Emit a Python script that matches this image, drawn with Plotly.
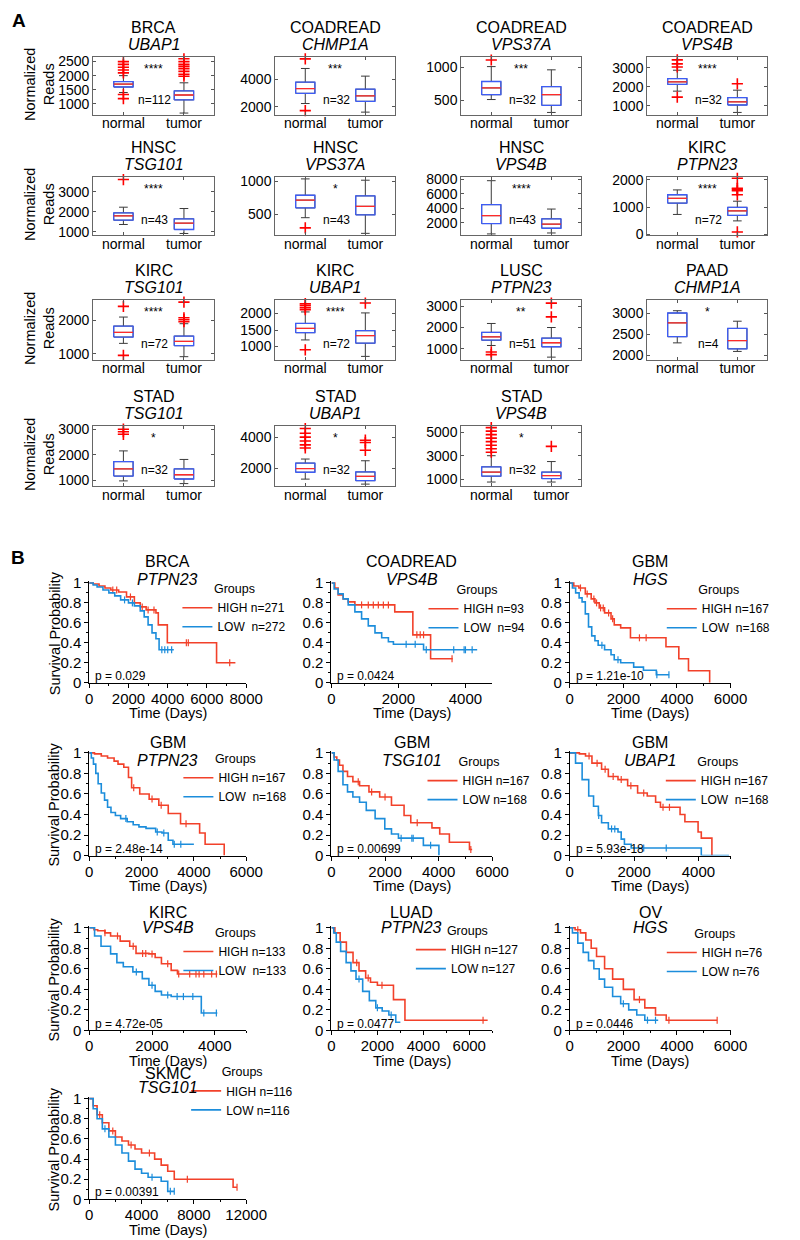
import plotly.graph_objects as go

W, H = 800, 1240
FONT = "Liberation Sans, Arial, sans-serif"
RED = "#f2412a"
BLUE = "#1c8ddb"
BOXBLUE = "#3d5cf5"
MEDRED = "#ff2a2a"

# ---------------- Panel A data ----------------
box_cancer = ["BRCA", "COADREAD", "COADREAD", "COADREAD", "HNSC", "HNSC", "HNSC", "KIRC",
              "KIRC", "KIRC", "LUSC", "PAAD", "STAD", "STAD", "STAD"]
box_gene = ["UBAP1", "CHMP1A", "VPS37A", "VPS4B", "TSG101", "VPS37A", "VPS4B", "PTPN23",
            "TSG101", "UBAP1", "PTPN23", "CHMP1A", "TSG101", "UBAP1", "VPS4B"]
box_n = [112, 32, 32, 32, 43, 43, 43, 72, 72, 72, 51, 4, 32, 32, 32]
box_stars = ["****", "***", "***", "****", "****", "*", "****", "****", "****", "****", "**", "*", "*", "*", "*"]
group_labels = ["normal", "tumor"]

normal_q1 = [1596, 2966, 583, 2119, 1583, 594, 1913, 1143, 1500, 1420, 1400, 2437, 1165, 1740, 1250]
normal_med = [1700, 3310, 686, 2254, 1800, 713, 3000, 1321, 1640, 1550, 1560, 2766, 1445, 1980, 1600]
normal_q3 = [1790, 3770, 784, 2424, 1950, 787, 4520, 1452, 1830, 1700, 1770, 3000, 1730, 2330, 2050]
normal_lo = [1400, 2230, 510, 1763, 1367, 446, 478, 726, 1310, 1200, 1150, 2290, 975, 1300, 750]
normal_hi = [2000, 4760, 1010, 2864, 2233, 1035, 7830, 1631, 2100, 2050, 2190, 3055, 2150, 2590, 3000]
normal_out = [[2100, 2200, 2300, 2400, 2500, 1330, 1180], [5450, 1720], [1110], [3410, 3200, 3034, 1450],
              [3617], [292], [], [], [2420, 950], [2300, 2250, 2180, 2120, 900], [845, 720], [],
              [3000, 2900, 2800], [4550, 4250, 4000, 3750, 3500, 3300],
              [5400, 5100, 4800, 4500, 4200, 3900, 3600, 3300]]

tumor_q1 = [1137, 2391, 422, 1034, 1117, 490, 1261, 690, 1240, 1100, 1090, 2148, 1050, 1200, 1050]
tumor_med = [1310, 2782, 583, 1203, 1433, 619, 1826, 857, 1370, 1330, 1280, 2344, 1215, 1480, 1300]
tumor_q3 = [1458, 3264, 706, 1424, 1650, 777, 2565, 988, 1530, 1480, 1500, 2633, 1445, 1760, 1600]
tumor_lo = [668, 1609, 314, 644, 917, 208, 609, 488, 910, 700, 600, 2086, 870, 980, 750]
tumor_hi = [1745, 4207, 961, 1814, 2167, 1015, 3913, 1214, 1900, 2020, 2000, 2805, 1815, 2480, 2500]
tumor_out = [[1980, 2050, 2150, 2250, 2330, 2400, 2500, 2600], [], [], [2150], [], [], [],
             [2060, 1690, 1650, 1600, 1450, 80], [2550, 2080, 2020, 1960], [2320], [3150, 2500], [],
             [], [3800, 3650, 3150], [3800]]

box_yrange = [[610, 2650], [1425, 5560], [280, 1150], [525, 3540], [830, 3750], [180, 1065],
              [300, 8350], [-40, 2110], [820, 2600], [600, 2400], [480, 3280], [1890, 3300],
              [770, 3130], [850, 4720], [400, 5550]]
box_yticks = [[1000, 1500, 2000, 2500], [2000, 4000], [500, 1000], [1000, 2000, 3000],
              [1000, 2000, 3000], [500, 1000], [2000, 4000, 6000, 8000], [0, 1000, 2000],
              [1000, 2000], [1000, 1500, 2000], [1000, 2000, 3000], [2000, 2500, 3000],
              [1000, 2000, 3000], [2000, 4000], [1000, 3000, 5000]]

# ---------------- Panel B data ----------------
surv_cancer = ["BRCA", "COADREAD", "GBM", "GBM", "GBM", "GBM", "KIRC", "LUAD", "OV", "SKMC"]
surv_gene = ["PTPN23", "VPS4B", "HGS", "PTPN23", "TSG101", "UBAP1", "VPS4B", "PTPN23", "HGS", "TSG101"]
surv_high_label = ["HIGH n=271", "HIGH n=93", "HIGH n=167", "HIGH n=167", "HIGH n=167", "HIGH n=167",
                   "HIGH n=133", "HIGH n=127", "HIGH n=76", "HIGH n=116"]
surv_low_label = ["LOW\u00a0\u00a0n=272", "LOW\u00a0\u00a0n=94", "LOW\u00a0\u00a0n=168", "LOW\u00a0\u00a0n=168",
                  "LOW n=168", "LOW\u00a0\u00a0n=168", "LOW\u00a0\u00a0n=133", "LOW n=127", "LOW n=76", "LOW n=116"]
surv_p = ["0.029", "0.0424", "1.21e-10", "2.48e-14", "0.00699", "5.93e-18", "4.72e-05", "0.0477", "0.0446", "0.00391"]
surv_xmax = [8000, 4800, 6000, 6000, 6000, 5000, 5000, 7000, 6000, 12000]
surv_xdtick = [2000, 2000, 2000, 2000, 2000, 2000, 2000, 2000, 2000, 4000]

brca_high_t = [0, 200, 500, 800, 1100, 1500, 1900, 2300, 2600, 2900, 3400, 3520, 3980, 6490, 7450]
brca_high_s = [1, 0.99, 0.97, 0.95, 0.93, 0.91, 0.86, 0.80, 0.76, 0.73, 0.70, 0.58, 0.40, 0.20, 0.20]
brca_high_c = [1200, 1400, 2100, 2700, 3000, 3300, 4950, 5050, 7160]
brca_low_t = [0, 200, 400, 700, 1000, 1300, 1600, 2000, 2300, 2600, 2800, 3000, 3200, 3400, 3560, 4310]
brca_low_s = [1, 0.98, 0.96, 0.93, 0.90, 0.87, 0.83, 0.80, 0.77, 0.72, 0.66, 0.58, 0.50, 0.44, 0.33, 0.33]
brca_low_c = [1800, 2200, 3700, 3850, 4000, 4200]

coad_high_t = [0, 100, 200, 350, 500, 700, 1890, 2430, 2960, 3620]
coad_high_s = [1, 0.95, 0.88, 0.84, 0.81, 0.78, 0.71, 0.48, 0.24, 0.24]
coad_high_c = [900, 1100, 1250, 1400, 1550, 1700, 2550, 2650, 2750, 3600]
coad_low_t = [0, 80, 200, 350, 500, 700, 900, 1100, 1300, 1500, 1700, 1850, 2750, 4350]
coad_low_s = [1, 0.94, 0.89, 0.84, 0.78, 0.71, 0.64, 0.57, 0.50, 0.45, 0.41, 0.385, 0.33, 0.33]
coad_low_c = [2230, 2500, 2830, 3650, 3960, 4000, 4200]

gbmh_high_t = [0, 150, 340, 580, 800, 940, 1100, 1300, 1540, 1660, 1900, 2265, 3590, 4070, 4430, 5220]
gbmh_high_s = [1, 0.97, 0.95, 0.89, 0.84, 0.80, 0.75, 0.70, 0.64, 0.58, 0.55, 0.45, 0.36, 0.24, 0.12, 0]
gbmh_high_c = [400, 650, 900, 1000, 1150, 1250, 1450, 1600, 2600, 2850]
gbmh_low_t = [0, 100, 220, 350, 460, 580, 700, 820, 940, 1060, 1300, 1540, 1660, 1900, 2385, 2750, 3230, 3710]
gbmh_low_s = [1, 0.95, 0.90, 0.85, 0.81, 0.69, 0.56, 0.47, 0.42, 0.375, 0.33, 0.28, 0.23, 0.20, 0.156, 0.125, 0.08, 0.08]
gbmh_low_c = [1200, 1800, 3250, 3700]

gbmp_high_t = [0, 200, 460, 700, 950, 1100, 1320, 1500, 1620, 1930, 2290, 2660, 3020, 3490, 4220, 4430, 5160]
gbmp_high_s = [1, 0.99, 0.97, 0.95, 0.92, 0.89, 0.86, 0.76, 0.66, 0.60, 0.55, 0.49, 0.41, 0.31, 0.22, 0.11, 0]
gbmp_high_c = [1700, 2400, 2750, 3700]
gbmp_low_t = [0, 80, 160, 250, 340, 460, 585, 700, 830, 1000, 1200, 1450, 1680, 1900, 2170, 2540, 2780, 3020, 3200, 4000]
gbmp_low_s = [1, 0.95, 0.89, 0.80, 0.70, 0.61, 0.54, 0.47, 0.42, 0.39, 0.36, 0.33, 0.30, 0.28, 0.265, 0.23, 0.22, 0.15, 0.11, 0.11]
gbmp_low_c = [1400, 2600, 2850, 3250, 3500]

gbmt_high_t = [0, 100, 200, 300, 430, 600, 800, 1050, 1400, 1800, 2240, 2710, 2960, 3750, 4040, 4400, 5150, 5250]
gbmt_high_s = [1, 0.96, 0.93, 0.88, 0.82, 0.77, 0.72, 0.68, 0.62, 0.57, 0.49, 0.39, 0.32, 0.27, 0.21, 0.13, 0.06, 0.06]
gbmt_high_c = [1000, 1500, 2000, 3200, 5200]
gbmt_low_t = [0, 100, 250, 430, 600, 800, 1050, 1300, 1630, 1990, 2240, 2500, 3430, 4010]
gbmt_low_s = [1, 0.93, 0.82, 0.69, 0.62, 0.57, 0.52, 0.44, 0.36, 0.26, 0.21, 0.17, 0.10, 0]
gbmt_low_c = [2600, 3000, 3050, 3700]

gbmu_high_t = [0, 300, 490, 690, 990, 1200, 1500, 1800, 2110, 2410, 2670, 2820, 3430, 3580, 3990, 4090, 4420]
gbmu_high_s = [1, 0.99, 0.97, 0.90, 0.84, 0.77, 0.74, 0.68, 0.61, 0.58, 0.52, 0.47, 0.40, 0.33, 0.23, 0.17, 0]
gbmu_high_c = [600, 850, 1100, 1350, 1600, 1900, 2300, 2900, 3100]
gbmu_low_t = [0, 180, 385, 590, 740, 890, 990, 1200, 1500, 1600, 1700, 1910, 4090, 4950]
gbmu_low_s = [1, 0.90, 0.74, 0.58, 0.48, 0.39, 0.32, 0.26, 0.23, 0.16, 0.11, 0.074, 0, 0]
gbmu_low_c = [900, 1300, 1400, 2300, 3000]

kirc_high_t = [0, 150, 270, 500, 680, 985, 1290, 1490, 1900, 2100, 2300, 2610, 2810, 4080]
kirc_high_s = [1, 0.98, 0.97, 0.95, 0.92, 0.87, 0.82, 0.75, 0.745, 0.71, 0.65, 0.585, 0.55, 0.55]
kirc_high_c = [500, 900, 1400, 1700, 1800, 2000, 2500, 2850, 3200, 3400, 3500, 3650, 3900, 4050]
kirc_low_t = [0, 170, 375, 680, 880, 1085, 1390, 1690, 1900, 2100, 2300, 2610, 3570, 4080]
kirc_low_s = [1, 0.92, 0.82, 0.745, 0.66, 0.62, 0.57, 0.505, 0.44, 0.38, 0.345, 0.33, 0.17, 0.17]
kirc_low_c = [1500, 2000, 2500, 2800, 3000, 3300, 3650, 4050]

luad_high_t = [0, 150, 380, 650, 940, 1200, 1490, 1700, 2000, 2700, 3200, 6800]
luad_high_s = [1, 0.95, 0.86, 0.76, 0.66, 0.58, 0.51, 0.47, 0.44, 0.30, 0.10, 0.10]
luad_high_c = [1100, 1600, 2200, 6600]
luad_low_t = [0, 100, 210, 400, 640, 850, 1070, 1360, 1650, 1930, 2210, 2500, 2800, 3000]
luad_low_s = [1, 0.95, 0.86, 0.77, 0.66, 0.58, 0.50, 0.38, 0.29, 0.22, 0.19, 0.15, 0.08, 0.08]
luad_low_c = [1200, 2000, 2600]

ov_high_t = [0, 200, 400, 600, 800, 1000, 1300, 1600, 2000, 2400, 2800, 3200, 3600, 5500]
ov_high_s = [1, 0.98, 0.95, 0.88, 0.80, 0.72, 0.60, 0.50, 0.40, 0.30, 0.22, 0.15, 0.10, 0.10]
ov_high_c = [300, 2600, 3700, 5500]
ov_low_t = [0, 100, 300, 500, 700, 900, 1100, 1300, 1600, 1900, 2200, 2500, 2800, 3300]
ov_low_s = [1, 0.95, 0.85, 0.76, 0.68, 0.60, 0.50, 0.42, 0.33, 0.26, 0.20, 0.15, 0.10, 0.10]
ov_low_c = [2000, 2900, 3200]

skmc_high_t = [0, 300, 600, 1000, 1500, 2000, 2500, 3000, 3500, 4000, 5000, 5500, 6000, 6500, 11000, 11300]
skmc_high_s = [1, 0.93, 0.84, 0.76, 0.68, 0.62, 0.58, 0.54, 0.50, 0.46, 0.40, 0.34, 0.28, 0.20, 0.12, 0.12]
skmc_high_c = [800, 1800, 3200, 4600, 7500, 11300]
skmc_low_t = [0, 300, 600, 1000, 1500, 2000, 2500, 3000, 3500, 4000, 4500, 5500, 6000, 6500]
skmc_low_s = [1, 0.90, 0.80, 0.70, 0.62, 0.54, 0.46, 0.38, 0.30, 0.26, 0.22, 0.18, 0.08, 0.08]
skmc_low_c = [1200, 4800, 6200, 6500]

surv_curves = [
    ((brca_high_t, brca_high_s, brca_high_c), (brca_low_t, brca_low_s, brca_low_c)),
    ((coad_high_t, coad_high_s, coad_high_c), (coad_low_t, coad_low_s, coad_low_c)),
    ((gbmh_high_t, gbmh_high_s, gbmh_high_c), (gbmh_low_t, gbmh_low_s, gbmh_low_c)),
    ((gbmp_high_t, gbmp_high_s, gbmp_high_c), (gbmp_low_t, gbmp_low_s, gbmp_low_c)),
    ((gbmt_high_t, gbmt_high_s, gbmt_high_c), (gbmt_low_t, gbmt_low_s, gbmt_low_c)),
    ((gbmu_high_t, gbmu_high_s, gbmu_high_c), (gbmu_low_t, gbmu_low_s, gbmu_low_c)),
    ((kirc_high_t, kirc_high_s, kirc_high_c), (kirc_low_t, kirc_low_s, kirc_low_c)),
    ((luad_high_t, luad_high_s, luad_high_c), (luad_low_t, luad_low_s, luad_low_c)),
    ((ov_high_t, ov_high_s, ov_high_c), (ov_low_t, ov_low_s, ov_low_c)),
    ((skmc_high_t, skmc_high_s, skmc_high_c), (skmc_low_t, skmc_low_s, skmc_low_c)),
]

# ---------------- layout geometry (pixels) ----------------
box_cols = [(92, 217), (280, 404), (472, 596), (664, 788)]
box_rows = [(51, 109), (172, 231), (297, 357), (424, 485)]
surv_cols = [(88, 250), (338, 504), (584, 750)]
surv_rows = [(583, 684), (755, 859), (932, 1036), (1105, 1207)]
surv_title_rows = [(561, 580), (745, 763), (917, 932), (1080, 1094)]
surv_time_gap = [31, 31, 31, 31]
# legend: (line start x, "Groups" centre y)
legend_pos = [(203, 592), (457, 593), (703, 593), (204, 764), (456, 767), (702, 767),
              (204, 940), (444, 938), (703, 941), (212, 1081)]

BOX_W = 0.32


def px(v):
    return v / W


def py(v):
    return 1 - v / H


def step_at(t, s, c):
    val = s[0]
    for ti, si in zip(t, s):
        if ti <= c:
            val = si
    return val


fig = go.Figure()
layout = dict(width=W, height=H, autosize=False, margin=dict(l=0, r=0, t=0, b=0), paper_bgcolor="white",
              plot_bgcolor="white", font=dict(family=FONT, color="black"), showlegend=True)
ann = []


def axname(k):
    return ("x" if k == 1 else f"x{k}"), ("y" if k == 1 else f"y{k}")


def layname(k):
    return ("xaxis" if k == 1 else f"xaxis{k}"), ("yaxis" if k == 1 else f"yaxis{k}")


# ---------------- Panel A ----------------
for i in range(15):
    k = i + 1
    r, c = divmod(i, 4)
    x0, x1 = box_cols[c]
    y0, y1 = box_rows[r]
    xa, ya = axname(k)
    lx, ly = layname(k)
    layout[lx] = dict(domain=[px(x0), px(x1)], anchor=ya, range=[0.5, 2.5], tickvals=[1, 2],
                      ticktext=group_labels, ticks="inside", ticklen=3, tickcolor="#555",
                      showline=True, linecolor="#666", linewidth=1, mirror="ticks",
                      showgrid=False, zeroline=False, tickfont=dict(size=14), ticklabelstandoff=-4)
    layout[ly] = dict(domain=[py(y1), py(y0)], anchor=xa, range=box_yrange[i], tickvals=box_yticks[i],
                      ticks="inside", ticklen=3, tickcolor="#555", showline=True, linecolor="#666",
                      linewidth=1, mirror="ticks", showgrid=False, zeroline=False,
                      tickfont=dict(size=14))
    groups = [
        (1, normal_q1[i], normal_med[i], normal_q3[i], normal_lo[i], normal_hi[i], normal_out[i]),
        (2, tumor_q1[i], tumor_med[i], tumor_q3[i], tumor_lo[i], tumor_hi[i], tumor_out[i]),
    ]
    for (cx, q1, med, q3, lo, hi, outs) in groups:
        fig.add_trace(go.Box(x=[cx], q1=[q1], median=[med], q3=[q3], lowerfence=[lo], upperfence=[hi],
                             width=BOX_W, whiskerwidth=0.45, boxpoints=False,
                             line=dict(color="#3a3a3a", width=1), fillcolor="white",
                             xaxis=xa, yaxis=ya, showlegend=False, hoverinfo="skip"))
        hw = BOX_W / 2
        fig.add_trace(go.Scatter(x=[cx - hw, cx + hw, cx + hw, cx - hw, cx - hw], y=[q1, q1, q3, q3, q1],
                                 mode="lines", line=dict(color=BOXBLUE, width=1.3),
                                 xaxis=xa, yaxis=ya, showlegend=False, hoverinfo="skip"))
        fig.add_trace(go.Scatter(x=[cx - hw, cx + hw], y=[med, med], mode="lines",
                                 line=dict(color=MEDRED, width=1.3),
                                 xaxis=xa, yaxis=ya, showlegend=False, hoverinfo="skip"))
        if outs:
            fig.add_trace(go.Scatter(x=[cx] * len(outs), y=outs, mode="markers",
                                     marker=dict(symbol="cross-thin", size=8, color="red",
                                                 line=dict(color="red", width=1.6)),
                                     cliponaxis=False, xaxis=xa, yaxis=ya, showlegend=False,
                                     hoverinfo="skip"))
    xc = (x0 + x1) / 2
    ann.append(dict(x=px(xc), y=py(y0 - 30), xref="paper", yref="paper", text=box_cancer[i],
                    showarrow=False, font=dict(size=16), xanchor="center", yanchor="middle"))
    ann.append(dict(x=px(xc), y=py(y0 - 13), xref="paper", yref="paper", text=f"<i>{box_gene[i]}</i>",
                    showarrow=False, font=dict(size=16), xanchor="center", yanchor="middle"))
    ann.append(dict(x=0.5, y=0.80, xref=f"{xa} domain", yref=f"{ya} domain", text=box_stars[i],
                    showarrow=False, font=dict(size=12), xanchor="center", yanchor="middle"))
    ann.append(dict(x=0.51, y=0.26, xref=f"{xa} domain", yref=f"{ya} domain", text=f"n={box_n[i]}",
                    showarrow=False, font=dict(size=12), xanchor="center", yanchor="middle"))

for (y0, y1) in box_rows:
    ann.append(dict(x=px(36), y=py((y0 + y1) / 2 - 2), xref="paper", yref="paper",
                    text="Normalized<br>Reads", textangle=-90, showarrow=False,
                    font=dict(size=14.5), xanchor="center", yanchor="middle"))

# ---------------- Panel B ----------------
for i in range(10):
    k = 16 + i
    r, c = divmod(i, 3)
    x0, x1 = surv_cols[c]
    ytop, ybot = surv_rows[r]
    xa, ya = axname(k)
    lx, ly = layname(k)
    ext = 0.02
    dom_top = ytop - ext * (ybot - ytop)
    layout[lx] = dict(domain=[px(x0), px(x1)], anchor=ya, range=[0, surv_xmax[i]], tick0=0,
                      dtick=surv_xdtick[i], tickformat="d", ticks="outside", ticklen=4, tickcolor="black",
                      showline=True, linecolor="black", linewidth=1, showgrid=False, zeroline=False,
                      tickfont=dict(size=15), ticklabelstandoff=-2,
                      minor=dict(dtick=surv_xdtick[i] / 2, ticks="outside", ticklen=2, tickcolor="black"))
    layout[ly] = dict(domain=[py(ybot), py(dom_top)], anchor=xa, range=[0, 1 + ext], tick0=0, dtick=0.2,
                      ticks="outside", ticklen=4, tickcolor="black", showline=True, linecolor="black",
                      linewidth=1, showgrid=False, zeroline=False, tickfont=dict(size=15),
                      minor=dict(dtick=0.1, ticks="outside", ticklen=2, tickcolor="black"))
    legname = "legend" if i == 0 else f"legend{i + 1}"
    (ht, hs, hc), (lt, ls, lc) = surv_curves[i]
    for (t, s, cs, col, name) in [(ht, hs, hc, RED, surv_high_label[i]), (lt, ls, lc, BLUE, surv_low_label[i])]:
        fig.add_trace(go.Scatter(x=t, y=s, mode="lines", line=dict(color=col, width=1.6, shape="hv"),
                                 name=name, legend=legname, xaxis=xa, yaxis=ya, hoverinfo="skip"))
        fig.add_trace(go.Scatter(x=cs, y=[step_at(t, s, cc) for cc in cs], mode="markers",
                                 marker=dict(symbol="line-ns-open", size=5, color=col,
                                             line=dict(color=col, width=1.2)),
                                 cliponaxis=False, showlegend=False, xaxis=xa, yaxis=ya, hoverinfo="skip"))
    lxs, lgy = legend_pos[i]
    layout[legname] = dict(x=px(lxs - 24), y=py(lgy - 15), xanchor="left", yanchor="top",
                           bgcolor="rgba(0,0,0,0)", borderwidth=0, tracegroupgap=0,
                           traceorder="normal", itemwidth=30, font=dict(size=12),
                           title=dict(text="Groups", font=dict(size=12.5), side="top center"))
    xc = (x0 + x1) / 2
    tc, tg = surv_title_rows[r]
    ann.append(dict(x=px(xc), y=py(tc), xref="paper", yref="paper", text=surv_cancer[i], showarrow=False,
                    font=dict(size=16), xanchor="center", yanchor="middle"))
    ann.append(dict(x=px(xc), y=py(tg), xref="paper", yref="paper", text=f"<i>{surv_gene[i]}</i>",
                    showarrow=False, font=dict(size=16), xanchor="center", yanchor="middle"))
    ann.append(dict(x=px(x0 + 4), y=py(ybot - 7), xref="paper", yref="paper", text=f"p = {surv_p[i]}",
                    showarrow=False, font=dict(size=12), xanchor="left", yanchor="middle"))
    ann.append(dict(x=px(xc), y=py(ybot + surv_time_gap[r]), xref="paper", yref="paper", text="Time (Days)",
                    showarrow=False, font=dict(size=14.5), xanchor="center", yanchor="middle"))
    if c == 0:
        ann.append(dict(x=px(52), y=py((ytop + ybot) / 2), xref="paper", yref="paper",
                        text="Survival Probability", textangle=-90, showarrow=False,
                        font=dict(size=14.5), xanchor="center", yanchor="middle"))

ann.append(dict(x=px(15), y=py(14), xref="paper", yref="paper", text="<b>A</b>", showarrow=False,
                font=dict(size=19), xanchor="center", yanchor="middle"))
ann.append(dict(x=px(14), y=py(557), xref="paper", yref="paper", text="<b>B</b>", showarrow=False,
                font=dict(size=19), xanchor="center", yanchor="middle"))

layout["annotations"] = ann
fig.update_layout(**layout)
fig.write_html("out.html", config={"responsive": False, "displayModeBar": False},
               post_script="document.body.style.margin='0px';document.body.style.padding='0px';"
                           "document.documentElement.style.overflow='hidden';")
